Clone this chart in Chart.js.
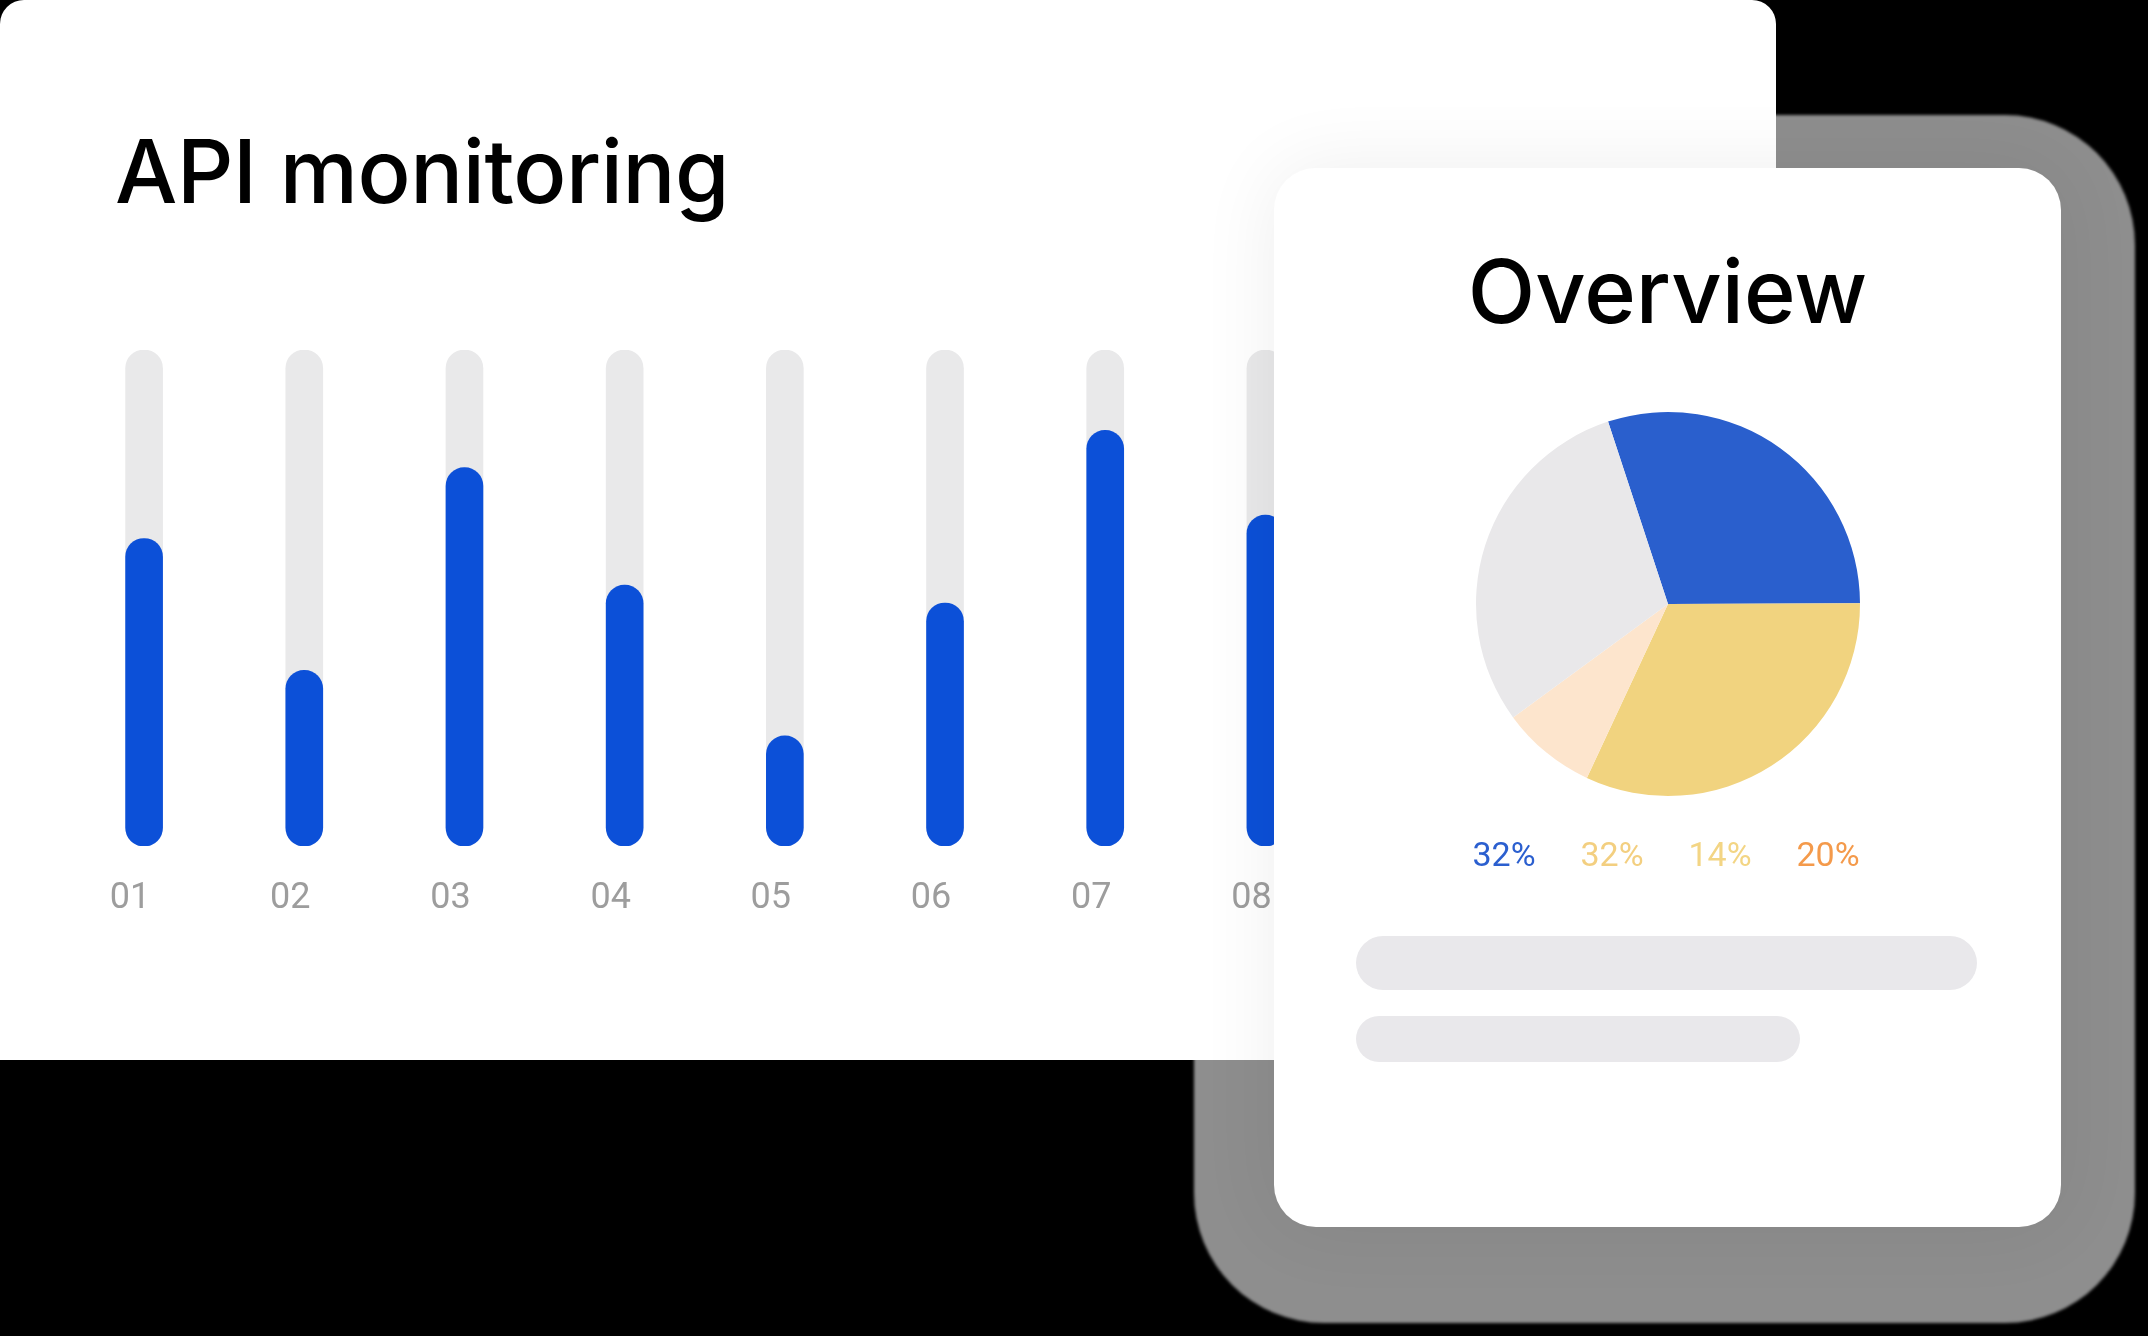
<!DOCTYPE html>
<html>
<head>
<meta charset="utf-8">
<script src="https://cdn.jsdelivr.net/npm/chart.js@4.4.0/dist/chart.umd.min.js"></script>
<style>
  html, body { margin: 0; padding: 0; background: #000; }
  body { width: 2148px; height: 1336px; position: relative; overflow: hidden; }
  .shadow { position: absolute; left: 1194px; top: 115px; width: 941px; height: 1208px;
            background: #8e8e8e; border-radius: 130px; filter: blur(1.5px); }
  .card1 { position: absolute; left: 0; top: 0; width: 1776px; height: 1060px; background: #fff;
           border-radius: 24px 24px 0 0; }
  .card2 { position: absolute; left: 1274px; top: 168px; width: 787px; height: 1059px; background: #fff;
           border-radius: 42px; box-shadow: 0 0 80px rgba(0,0,0,0.07); }
  .title { position: absolute; font-family: Inter, sans-serif; font-weight: 500; color: #000;
           white-space: nowrap; line-height: 1; }
  #apiTitle { left: 115px; top: 127px; font-size: 88px; letter-spacing: -0.4px; }
  #ovTitle { left: 1274px; width: 787px; text-align: center; top: 247px; font-size: 88px; }
  #barCanvas { position: absolute; left: 0; top: 300px; }
  #pieCanvas { position: absolute; left: 1468px; top: 404px; }
  #pctRow { position: absolute; left: 1450px; top: 837px; display: flex; }
  #pctRow div { width: 108px; text-align: center; font-family: Roboto, sans-serif; font-size: 34px; line-height: 34px; }
  .ph { position: absolute; background: #e9e8eb; }
</style>
</head>
<body>
<div class="shadow"></div>
<div class="card1"></div>
<div class="title" id="apiTitle">API monitoring</div>
<canvas id="barCanvas" width="1400" height="660"></canvas>
<div class="card2"></div>
<div class="title" id="ovTitle">Overview</div>
<canvas id="pieCanvas" width="400" height="400"></canvas>
<div id="pctRow"></div>
<div class="ph" style="left:1356px;top:936px;width:621px;height:54px;border-radius:27px;"></div>
<div class="ph" style="left:1356px;top:1016px;width:444px;height:46px;border-radius:23px;"></div>
<script>
// ---- data ----
const categories = ['01', '02', '03', '04', '05', '06', '07', '08'];
const usageValues = [62.0, 35.4, 76.3, 52.6, 22.2, 49.0, 83.8, 66.7];
const trackValues = [100, 100, 100, 100, 100, 100, 100, 100];

const pieLabels = ['Blue', 'Yellow', 'Peach', 'Grey'];
const pieValues = [30, 32, 8, 30];
const pieColors = ['#2a5fcd', '#f1d37f', '#fde5cd', '#e9e8ea'];

const percentLabels = ['32%', '32%', '14%', '20%'];
const percentColors = ['#2b5fcf', '#f3cf80', '#f3d584', '#f49a4b'];

// ---- bar chart ----
new Chart(document.getElementById('barCanvas'), {
  type: 'bar',
  data: {
    labels: categories,
    datasets: [
      { data: usageValues, backgroundColor: '#0c50d8', barThickness: 37, borderRadius: 18.5,
        borderSkipped: false, grouped: false, order: 1 },
      { data: trackValues, backgroundColor: '#e9e9ea', barThickness: 37, borderRadius: 18.5,
        borderSkipped: false, grouped: false, order: 2 }
    ]
  },
  options: {
    responsive: false, animation: false, devicePixelRatio: 1,
    layout: { padding: { top: 50, left: 64, right: 54.5, bottom: 0 } },
    plugins: { legend: { display: false }, tooltip: { enabled: false } },
    scales: {
      y: { display: false, min: 0, max: 100 },
      x: {
        grid: { display: false, drawTicks: false },
        border: { display: false },
        ticks: { color: '#9d9d9d', font: { family: 'Roboto', size: 36 }, padding: 31, labelOffset: -14 },
        afterFit: (s) => { s.height = 114; }
      }
    }
  }
});

// ---- pie chart ----
new Chart(document.getElementById('pieCanvas'), {
  type: 'pie',
  data: { labels: pieLabels, datasets: [{ data: pieValues, backgroundColor: pieColors, borderWidth: 0 }] },
  options: {
    responsive: false, animation: false, devicePixelRatio: 1,
    rotation: -18.2,
    layout: { padding: 8 },
    plugins: { legend: { display: false }, tooltip: { enabled: false } }
  }
});

// ---- percentage labels ----
const row = document.getElementById('pctRow');
percentLabels.forEach((t, i) => {
  const d = document.createElement('div');
  d.textContent = t;
  d.style.color = percentColors[i];
  row.appendChild(d);
});
</script>
</body>
</html>
